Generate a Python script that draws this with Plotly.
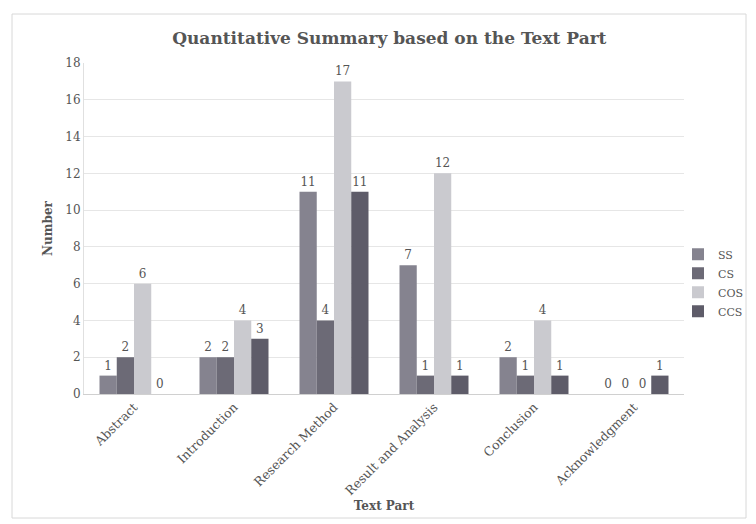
import plotly.graph_objects as go

categories = ["Abstract", "Introduction", "Research Method",
              "Result and Analysis", "Conclusion", "Acknowledgment"]
series_names = ["SS", "CS", "COS", "CCS"]
ss = [1, 2, 11, 7, 2, 0]
cs = [2, 2, 4, 1, 1, 0]
cos = [6, 4, 17, 12, 4, 0]
ccs = [0, 3, 11, 1, 1, 1]
y_ticks = [0, 2, 4, 6, 8, 10, 12, 14, 16, 18]

colors = ["#85838f", "#6c6a76", "#cacacf", "#5e5c69"]
serif = "DejaVu Serif, serif"
txt = "#555555"

fig = go.Figure()
for name, vals, col in zip(series_names, [ss, cs, cos, ccs], colors):
    fig.add_trace(go.Bar(
        x=categories, y=vals, name=name,
        marker=dict(color=col, line=dict(width=0)),
        text=[str(v) for v in vals], textposition="outside",
        textfont=dict(family=serif, size=12, color=txt),
        cliponaxis=False,
    ))

fig.update_layout(
    width=756, height=524,
    margin=dict(l=84, r=72, t=63, b=130, autoexpand=False),
    paper_bgcolor="white", plot_bgcolor="white",
    barmode="group", bargap=0.31, bargroupgap=0,
    font=dict(family=serif, color=txt),
    title=dict(text="<b>Quantitative Summary based on the Text Part</b>",
               x=0.515, xanchor="center", y=0.928, yanchor="middle",
               font=dict(family=serif, size=17, color=txt)),
    legend=dict(x=0.99, xanchor="left", y=0.336, yanchor="middle",
                font=dict(family=serif, size=11, color=txt),
                itemwidth=30, tracegroupgap=0, bgcolor="rgba(0,0,0,0)"),
    showlegend=True,
)
fig.update_xaxes(
    tickangle=-45, tickfont=dict(family=serif, size=12.5, color=txt),
    showline=True, linecolor="#d0d0d0", linewidth=1, showgrid=False,
    automargin=False,
    title=dict(text="<b>Text Part</b>", font=dict(family=serif, size=12, color=txt),
               standoff=4),
)
fig.update_yaxes(
    range=[0, 18], tickvals=y_ticks,
    tickfont=dict(family=serif, size=12, color=txt),
    showgrid=True, gridcolor="#e6e6e6", gridwidth=1,
    showline=True, linecolor="#e0e0e0", zeroline=False,
    ticks="", ticklen=0, automargin=False,
    title=dict(text="<b>Number</b>", font=dict(family=serif, size=12, color=txt),
               standoff=10),
)
# outer chart frame
fig.add_shape(type="rect", xref="paper", yref="paper",
              x0=-72 / 600, x1=1 + 62 / 600, y0=-124 / 331, y1=1 + 49 / 331,
              line=dict(color="#d8d8d8", width=1), layer="below")

fig.write_html("out.html")
